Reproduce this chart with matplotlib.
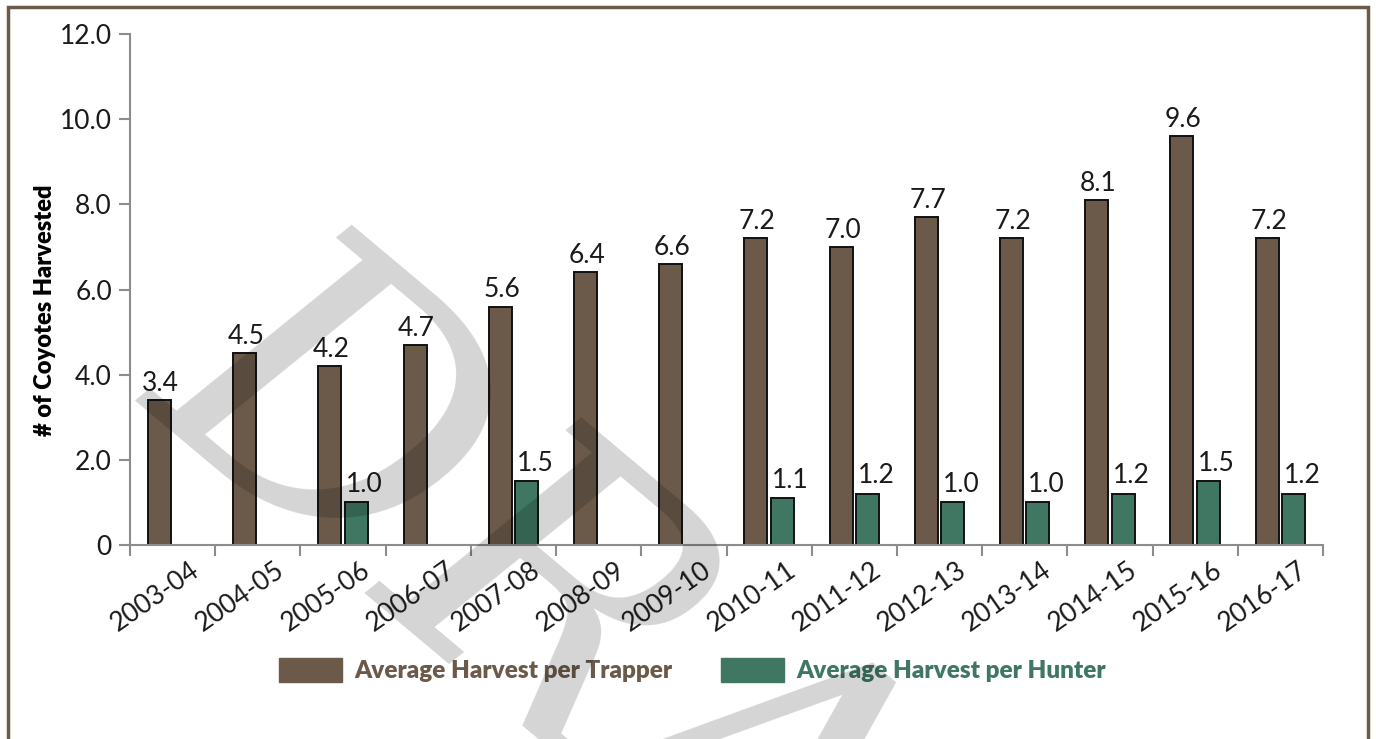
import matplotlib.pyplot as plt
import matplotlib.patches as mpatches
import numpy as np

seasons = ['2003-04', '2004-05', '2005-06', '2006-07', '2007-08', '2008-09',
           '2009-10', '2010-11', '2011-12', '2012-13', '2013-14', '2014-15',
           '2015-16', '2016-17']
trapper = [3.4, 4.5, 4.2, 4.7, 5.6, 6.4, 6.6, 7.2, 7.0, 7.7, 7.2, 8.1, 9.6, 7.2]
hunter = [np.nan, np.nan, 1.0, np.nan, 1.5, np.nan, np.nan, 1.1, 1.2, 1.0,
          1.0, 1.2, 1.5, 1.2]
yticks = [0, 2, 4, 6, 8, 10, 12]
ytick_labels = ['0', '2.0', '4.0', '6.0', '8.0', '10.0', '12.0']

BROWN = '#6b5a4a'
GREEN = '#3f7763'
AXCOL = '#8c8c8c'
TXT = '#1a1a1a'

plt.rcParams['font.family'] = ['Lato', 'DejaVu Sans']

fig = plt.figure(figsize=(13.76, 7.39), dpi=100)
ax = fig.add_axes([130/1376, 1-545/739, (1323-130)/1376, (545-34)/739])

x = np.arange(len(seasons))
w = 0.27
off = 0.155
ax.bar(x - off, trapper, w, color=BROWN, edgecolor='#111111', linewidth=1.4, zorder=2)
ax.bar(x + off, hunter, w, color=GREEN, edgecolor='#111111', linewidth=1.4, zorder=2)

for xi, v in zip(x, trapper):
    ax.annotate('%.1f' % v, (xi - off, v), xytext=(1, 3), textcoords='offset points',
                ha='center', va='bottom', fontsize=19, color=TXT)
for xi, v in zip(x, hunter):
    if np.isnan(v):
        continue
    ax.annotate('%.1f' % v, (xi + off, v), xytext=(6, 4), textcoords='offset points',
                ha='center', va='bottom', fontsize=19, color=TXT)

ax.set_xlim(-0.5, len(seasons) - 0.5)
ax.set_ylim(0, 12)
ax.set_yticks(yticks)
ax.set_yticklabels(ytick_labels, fontsize=19, color=TXT)
ax.set_xticks(x + 0.2)
ax.set_xticklabels(seasons, rotation=35, ha='right', va='top', rotation_mode='anchor',
                   fontsize=19, color=TXT)
ax.set_xticks(np.arange(len(seasons) + 1) - 0.5, minor=True)
ax.tick_params(axis='x', which='major', length=0, pad=9)
ax.tick_params(axis='x', which='minor', length=8, width=1.5, color=AXCOL, direction='out')
ax.tick_params(axis='y', length=8, width=1.5, color=AXCOL, pad=5)

for s in ['top', 'right']:
    ax.spines[s].set_visible(False)
for s in ['left', 'bottom']:
    ax.spines[s].set_color(AXCOL)
    ax.spines[s].set_linewidth(1.5)

ax.set_ylabel('# of Coyotes Harvested', fontsize=17, fontweight='heavy')
ax.yaxis.set_label_coords(-0.062, 0.46)

# legend below the chart
handles = [mpatches.Patch(color=BROWN), mpatches.Patch(color=GREEN)]
fig.legend(handles, ['Average Harvest per Trapper', 'Average Harvest per Hunter'],
           loc='center', bbox_to_anchor=(0.503, 1-670/739), ncol=2, frameon=False,
           prop={'size': 17.5, 'weight': 'heavy'}, handlelength=2.6, handleheight=1.2,
           columnspacing=2.0, handletextpad=0.5,
           labelcolor=[BROWN, GREEN])

# draft watermark
fig.text(140/1376, 1-400/739, 'DRAFT', fontsize=270, family='DejaVu Serif', style='italic',
         rotation=-40, rotation_mode='anchor', ha='left', va='baseline',
         color='black', alpha=0.17, zorder=10)

# page frame
fig.patches.append(mpatches.Rectangle((8/1376, -0.1), (1368-8)/1376, 1.1 - 7/739,
                                      transform=fig.transFigure, fill=False,
                                      edgecolor='#6b5a48', linewidth=2.5))

fig.savefig('out.png', dpi=100)
